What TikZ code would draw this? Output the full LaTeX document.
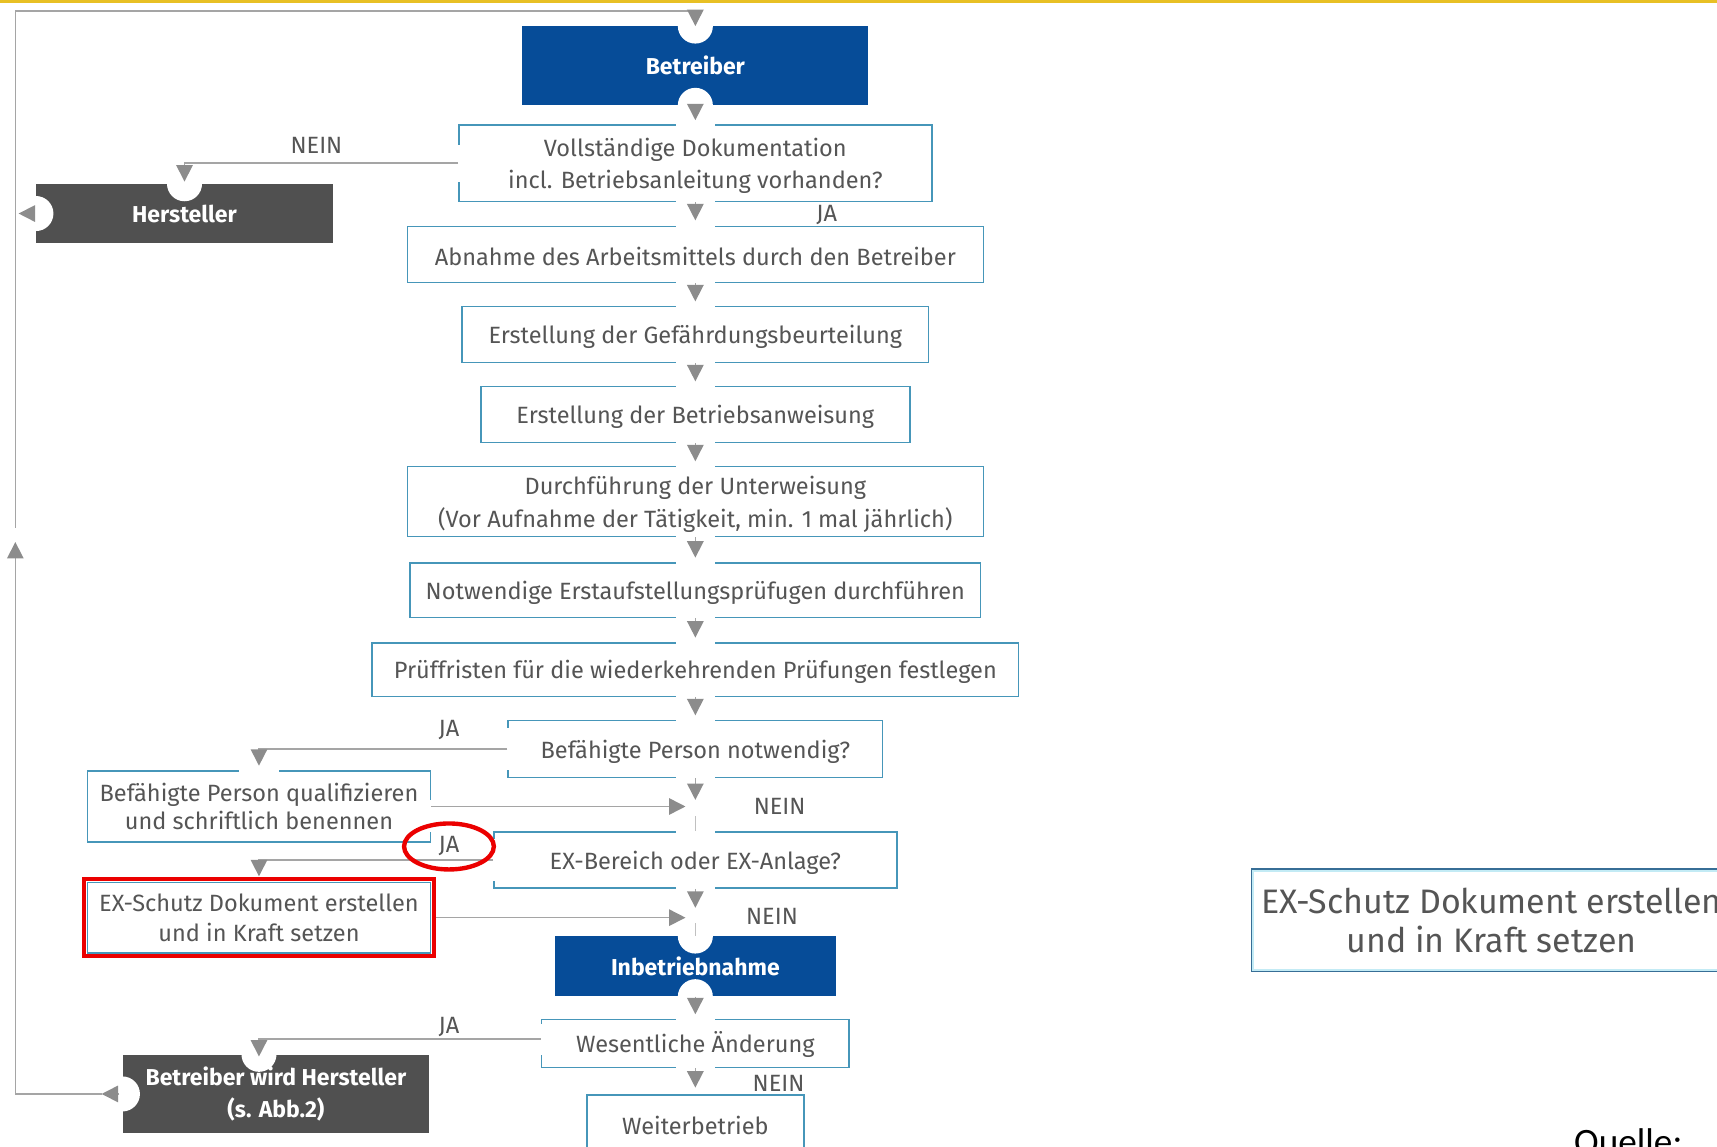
\documentclass[tikz,border=0pt]{standalone}
\usepackage{fontspec}
\setmainfont{Fira Sans}
\newfontfamily\quellefont{Carlito}
\usetikzlibrary{arrows.meta,calc}

\definecolor{bauablue}{RGB}{6,76,152}
\definecolor{boxgray}{RGB}{80,80,80}
\definecolor{frameteal}{RGB}{70,150,185}
\definecolor{linegray}{RGB}{165,165,165}
\definecolor{tipgray}{RGB}{140,140,140}
\definecolor{textgray}{RGB}{85,85,85}
\definecolor{redmark}{RGB}{235,0,0}
\definecolor{topyellow}{RGB}{232,192,36}
\definecolor{bigframe}{RGB}{55,110,150}
\definecolor{glowcyan}{RGB}{195,235,245}

% white cut-outs in box borders where connectors pass
\newcommand\gapH[1]{\fill[white] ($(#1)+(-18,-2.5)$) rectangle ($(#1)+(18,2.5)$);}
\newcommand\gapV[2]{\fill[white] ($(#1)+(-2.5,-#2)$) rectangle ($(#1)+(2.5,#2)$);}
% taller first line for two-line boxes
\newcommand\firstline{\rule{0pt}{22pt}}

\begin{document}
\begin{tikzpicture}[x=1pt,y=-1pt,
  flow/.style={draw=frameteal, line width=1.5pt, fill=white, inner sep=0pt,
    align=center, text=textgray, font=\fontsize{21.5}{28}\selectfont},
  flowone/.style={flow, text height=21pt},
  darkbox/.style={fill=#1, inner sep=0pt, align=center, text=white,
    font=\fontsize{21}{29}\selectfont\bfseries},
  conn/.style={draw=linegray, line width=1.4pt},
  arrowtip/.style={-{Triangle[width=15pt,length=15pt,color=tipgray]}},
  lbl/.style={text=textgray, font=\fontsize{21.5}{26}\selectfont, inner sep=0pt},
  hilite/.style={draw=redmark, line width=4pt},
]
\useasboundingbox (0,0) rectangle (1568,1047);
\fill[white] (0,0) rectangle (1568,1047);
\fill[topyellow] (0,0) rectangle (1568,3);

% ---- boxes ----
\node[darkbox=bauablue, minimum width=316pt, minimum height=72pt] (betr) at (635,60) {Betreiber};
\node[flow, minimum width=432pt, minimum height=70pt, font=\fontsize{21.5}{29}\selectfont] (vd) at (635,149)
  {\firstline Vollständige Dokumentation\\incl. Betriebsanleitung vorhanden?};
\node[darkbox=boxgray, minimum width=271pt, minimum height=54pt] (her) at (168.5,195) {Hersteller};
\node[flowone, minimum width=526pt, minimum height=51pt] (ab) at (635,232.5) {Abnahme des Arbeitsmittels durch den Betreiber};
\node[flowone, minimum width=426pt, minimum height=51pt] (gb) at (635,305.5) {Erstellung der Gefährdungsbeurteilung};
\node[flowone, minimum width=392pt, minimum height=51pt] (ba) at (635,378.5) {Erstellung der Betriebsanweisung};
\node[flow, minimum width=526pt, minimum height=64pt, font=\fontsize{21.5}{30}\selectfont] (uw) at (635,458)
  {\firstline Durchführung der Unterweisung\\(Vor Aufnahme der Tätigkeit, min. 1 mal jährlich)};
\node[flowone, minimum width=521pt, minimum height=50pt] (ep) at (635,539) {Notwendige Erstaufstellungsprüfugen durchführen};
\node[flowone, minimum width=590pt, minimum height=49pt] (pf) at (635,611.5) {Prüffristen für die wiederkehrenden Prüfungen festlegen};
\node[flowone, minimum width=342pt, minimum height=52pt] (bp) at (635,684) {Befähigte Person notwendig?};
\node[flow, minimum width=313pt, minimum height=65pt, font=\fontsize{21.5}{26}\selectfont] (bq) at (236.5,736.5)
  {Befähigte Person qualifizieren\\und schriftlich benennen};
\node[flowone, minimum width=368pt, minimum height=51pt] (ex) at (635,785.5) {EX-Bereich oder EX-Anlage?};
\node[flow, minimum width=313pt, minimum height=64pt, font=\fontsize{21.5}{27}\selectfont] (es) at (236.5,838)
  {EX-Schutz Dokument erstellen\\und in Kraft setzen};
\node[darkbox=bauablue, minimum width=256pt, minimum height=55pt] (ib) at (635,882.5) {Inbetriebnahme};
\node[flowone, minimum width=281pt, minimum height=44pt] (wa) at (635,953) {Wesentliche Änderung};
\node[darkbox=boxgray, minimum width=280pt, minimum height=72pt] (bh) at (252,999) {Betreiber wird Hersteller\\(s. Abb.2)};
\node[flowone, minimum width=198pt, minimum height=52pt] (wb) at (635,1026) {Weiterbetrieb};

% ---- round notches in the filled boxes ----
\coordinate (bhin) at (bq.center |- bh.north);
\foreach \p in {betr.north, betr.south, her.north, her.west, ib.north, ib.south, bh.west, bhin}
  {\fill[white] (\p) circle[radius=16pt];}

% ---- openings in the framed boxes ----
\foreach \p in {vd.north, vd.south, ab.north, ab.south, gb.north, gb.south, ba.north, ba.south,
  uw.north, uw.south, ep.north, ep.south, pf.north, pf.south, bp.north, bp.south,
  ex.north, ex.south, wa.north, wa.south, bq.north}
  {\gapH{\p}}
\coordinate (waExit) at ($(wa.west)+(0,-4)$);
\coordinate (bqCut) at ($(bq.east)+(0,8.5)$);
\gapV{vd.west}{17}
\gapV{bp.west}{19}
\gapV{ex.west}{19}
\gapV{waExit}{14}
\gapV{bqCut}{14.5}

% ---- main column ----
\draw[conn, arrowtip, shorten >=3.5pt] (betr.south) -- (vd.north);
\draw[conn, arrowtip, shorten >=5pt] (vd.south) -- (ab.north);
\draw[conn, arrowtip, shorten >=4pt] (ab.south) -- (gb.north);
\draw[conn, arrowtip, shorten >=4pt] (gb.south) -- (ba.north);
\draw[conn, arrowtip, shorten >=4pt] (ba.south) -- (uw.north);
\draw[conn, arrowtip, shorten >=4pt] (uw.south) -- (ep.north);
\draw[conn, arrowtip, shorten >=4pt] (ep.south) -- (pf.north);
\draw[conn, arrowtip, shorten >=4pt] (pf.south) -- (bp.north);

% NEIN branch to Hersteller
\draw[conn, arrowtip, shorten >=2pt] (vd.west) -| (her.north);

% Befaehigte Person
\coordinate (j1) at (bp.south |- bq.east);
\draw[conn, arrowtip, shorten >=6pt] (bp.south) -- (j1);
\draw[conn, arrowtip, shorten >=9pt] (bq.east) -- (j1);
\draw[conn, line width=1pt, draw=linegray!70] ($(j1)+(0,9)$) -- (ex.north);
\draw[conn, arrowtip, shorten >=4pt] (bp.west) -| (bq.north);

% EX-Bereich
\draw[conn, arrowtip, shorten >=5pt] (ex.west) -| (es.north);
\coordinate (j2) at (ex.south |- es.east);
\draw[conn, arrowtip, shorten >=9pt] ([xshift=4pt]es.east) -- (j2);
\draw[conn, arrowtip, shorten >=9pt] (ex.south) -- (j2);
\draw[conn, line width=1pt, draw=linegray!70] ($(j2)+(0,5)$) -- (ib.north);

% operation
\draw[conn, arrowtip, shorten >=4pt] (ib.south) -- (wa.north);
\draw[conn, arrowtip, shorten >=-2pt] (waExit) -| (bhin);
\draw[conn, arrowtip, shorten >=6pt] (wa.south) -- (wb.north);

% return loop on the left
\coordinate (lpT) at (14,10);
\coordinate (lpB) at (bh.west -| lpT);
\coordinate (lpUp) at (14,495);
\coordinate (lpGap) at (14,482);
\coordinate (bhOut) at ($(bh.west)+(-19,0)$);
\draw[conn, arrowtip, shorten <=3pt] (bh.west) -- (bhOut);
\draw[conn, arrowtip] (bhOut) -- (lpB) -- (lpUp);
\draw[conn, arrowtip] (lpGap) -- (lpT) -- (lpT -| betr.north) -- (betr.north);
\draw[conn, arrowtip, shorten <=2pt, shorten >=3pt] (her.west) -- (her.west -| lpT);

% ---- branch labels ----
\node[lbl] (l1) at (289,133) {NEIN};
\node[lbl] (l2) at (755,196) {JA};
\node[lbl] (l3) at (410,667) {JA};
\node[lbl] (l4) at (712,736) {NEIN};
\node[lbl] (l5) at (410,773) {JA};
\node[lbl] (l6) at (705,837) {NEIN};
\node[lbl] (l7) at (410,938) {JA};
\node[lbl] (l8) at (711,989) {NEIN};

% ---- red highlights ----
\draw[hilite] ([shift={(-2.5,-2.5)}]es.north west) rectangle ([shift={(2.5,2.5)}]es.south east);
\draw[hilite] (l5) ellipse [x radius=41pt, y radius=21pt];

% ---- enlarged box on the right ----
\node[draw=bigframe, line width=2pt, fill=white, minimum width=438pt, minimum height=93pt,
  inner sep=0pt, align=center, text=textgray, font=\fontsize{31}{36}\selectfont] (big) at (1362,840.5)
  {EX-Schutz Dokument erstellen\\und in Kraft setzen};
\draw[glowcyan, line width=2pt] ([shift={(2.5,2.5)}]big.north west) rectangle ([shift={(-2.5,-2.5)}]big.south east);

\node[anchor=base west, inner sep=0pt, text=black, font=\quellefont\fontsize{34}{40}\selectfont] (quelle) at (1437,1054) {Quelle:};
\end{tikzpicture}
\end{document}
